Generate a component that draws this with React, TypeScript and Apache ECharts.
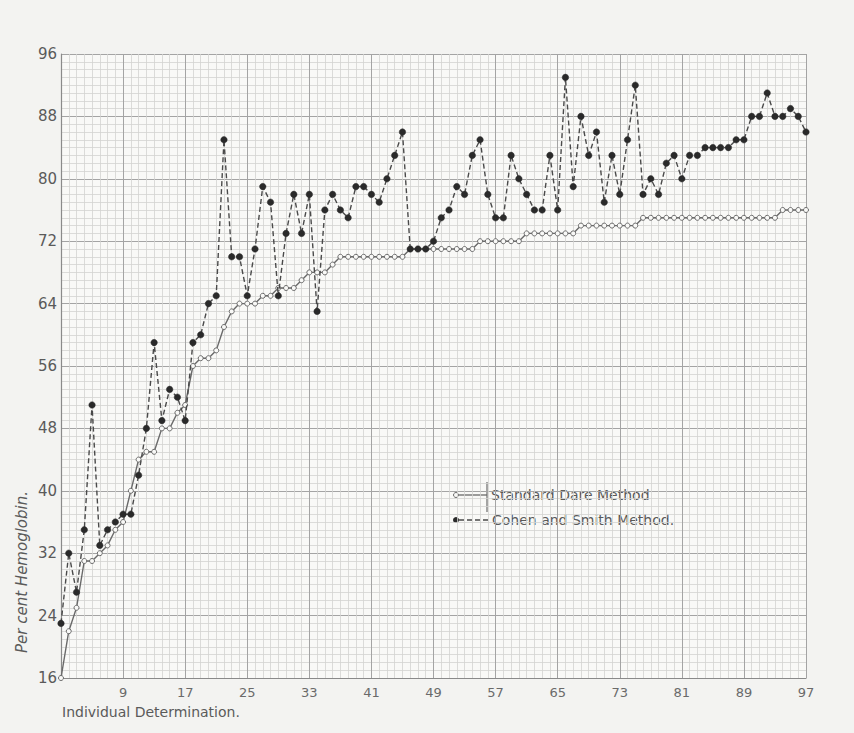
import React, { useEffect, useRef } from "react";
import * as echarts from "echarts";

// Per cent hemoglobin for each individual determination (1..97)
const determinations: number[] = Array.from({ length: 97 }, (_, i) => i + 1);

const standardDare: number[] = [
  16, 22, 25, 31, 31, 32, 33, 35, 36, 40,
  44, 45, 45, 48, 48, 50, 51, 56, 57, 57,
  58, 61, 63, 64, 64, 64, 65, 65, 66, 66,
  66, 67, 68, 68, 68, 69, 70, 70, 70, 70,
  70, 70, 70, 70, 70, 71, 71, 71, 71, 71,
  71, 71, 71, 71, 72, 72, 72, 72, 72, 72,
  73, 73, 73, 73, 73, 73, 73, 74, 74, 74,
  74, 74, 74, 74, 74, 75, 75, 75, 75, 75,
  75, 75, 75, 75, 75, 75, 75, 75, 75, 75,
  75, 75, 75, 76, 76, 76, 76,
];

const cohenSmith: number[] = [
  23, 32, 27, 35, 51, 33, 35, 36, 37, 37,
  42, 48, 59, 49, 53, 52, 49, 59, 60, 64,
  65, 85, 70, 70, 65, 71, 79, 77, 65, 73,
  78, 73, 78, 63, 76, 78, 76, 75, 79, 79,
  78, 77, 80, 83, 86, 71, 71, 71, 72, 75,
  76, 79, 78, 83, 85, 78, 75, 75, 83, 80,
  78, 76, 76, 83, 76, 93, 79, 88, 83, 86,
  77, 83, 78, 85, 92, 78, 80, 78, 82, 83,
  80, 83, 83, 84, 84, 84, 84, 85, 85, 88,
  88, 91, 88, 88, 89, 88, 86,
];

const seriesNames: string[] = ["Standard Dare Method", "Cohen and Smith Method."];
const yTitle = "Per cent Hemoglobin.";
const xTitle = "Individual Determination.";

export default function App() {
  const ref = useRef<HTMLDivElement>(null);

  useEffect(() => {
    if (!ref.current) return;
    const chart = echarts.init(ref.current, null, { renderer: "svg" });
    const font = "DejaVu Sans";
    const textColor = "#5a5a5a";

    // x positions are offsets from the first determination (so ticks align at 1, 9, 17 ...)
    const stdData = determinations.map((d, i) => [d - 1, standardDare[i]]);
    const csData = determinations.map((d, i) => [d - 1, cohenSmith[i]]);

    chart.setOption({
      animation: false,
      backgroundColor: "#f3f3f1",
      grid: { left: 61, right: 48, top: 54, bottom: 55, show: true, backgroundColor: "#f9f9f7", borderWidth: 0 },
      xAxis: {
        type: "value",
        min: 0,
        max: 96,
        interval: 8,
        axisLine: { show: true, lineStyle: { color: "#8a8a8a", width: 1.2 } },
        axisTick: { show: false },
        minorTick: { show: true, splitNumber: 8, length: 0 },
        splitLine: { show: true, lineStyle: { color: "#a4a4a4", width: 1 } },
        minorSplitLine: { show: true, lineStyle: { color: "#d3d3d1", width: 0.8 } },
        axisLabel: {
          color: "#6a6a6a",
          fontSize: 13,
          fontFamily: font,
          margin: 8,
          formatter: (v: number) => (v === 0 ? "" : String(v + 1)),
        },
      },
      yAxis: {
        type: "value",
        min: 16,
        max: 96,
        interval: 8,
        axisLine: { show: true, lineStyle: { color: "#8a8a8a", width: 1.2 } },
        axisTick: { show: false },
        minorTick: { show: true, splitNumber: 8, length: 0 },
        splitLine: { show: true, lineStyle: { color: "#a4a4a4", width: 1 } },
        minorSplitLine: { show: true, lineStyle: { color: "#d3d3d1", width: 0.8 } },
        axisLabel: { color: textColor, fontSize: 15, fontFamily: font, margin: 4 },
      },
      series: [
        {
          name: seriesNames[0],
          type: "line",
          data: stdData,
          symbol: "circle",
          symbolSize: 5,
          itemStyle: { color: "#f9f9f7", borderColor: "#6a6a6a", borderWidth: 1 },
          lineStyle: { color: "#6a6a6a", width: 1.4 },
          z: 3,
        },
        {
          name: seriesNames[1],
          type: "line",
          data: csData,
          symbol: "circle",
          symbolSize: 6.5,
          itemStyle: { color: "#2a2a2a", borderColor: "#2a2a2a", borderWidth: 0.5 },
          lineStyle: { color: "#4a4a4a", width: 1.4, type: [5, 3] },
          z: 4,
        },
      ],
      graphic: [
        {
          type: "text",
          x: 22,
          y: 572,
          rotation: Math.PI / 2,
          style: {
            text: yTitle,
            fill: textColor,
            font: `italic 15px ${font}`,
            align: "center",
            verticalAlign: "middle",
          },
        },
        {
          type: "text",
          x: 62,
          y: 712,
          style: {
            text: xTitle,
            fill: textColor,
            font: `14px ${font}`,
            align: "left",
            verticalAlign: "middle",
          },
        },
        // legend
        { type: "line", shape: { x1: 459, y1: 495, x2: 487, y2: 495 }, style: { stroke: "#6a6a6a", lineWidth: 1.3 } },
        { type: "circle", shape: { cx: 456, cy: 495, r: 2.5 }, style: { fill: "#f9f9f7", stroke: "#6a6a6a", lineWidth: 1 } },
        { type: "line", shape: { x1: 487, y1: 482, x2: 487, y2: 512 }, style: { stroke: "#6a6a6a", lineWidth: 1.2 } },
        {
          type: "text",
          x: 491,
          y: 495,
          style: { text: seriesNames[0], fill: textColor, font: `14px ${font}`, verticalAlign: "middle" },
        },
        { type: "line", shape: { x1: 459, y1: 520, x2: 490, y2: 520 }, style: { stroke: "#4a4a4a", lineWidth: 1.3, lineDash: [5, 3] } },
        { type: "circle", shape: { cx: 456, cy: 520, r: 3 }, style: { fill: "#2a2a2a" } },
        {
          type: "text",
          x: 492,
          y: 520,
          style: { text: seriesNames[1], fill: textColor, font: `14px ${font}`, verticalAlign: "middle" },
        },
      ],
    });
    return () => chart.dispose();
  }, []);

  return (
    <div
      ref={ref}
      style={{ position: "fixed", left: 0, top: 0, width: 854, height: 733 }}
    />
  );
}
